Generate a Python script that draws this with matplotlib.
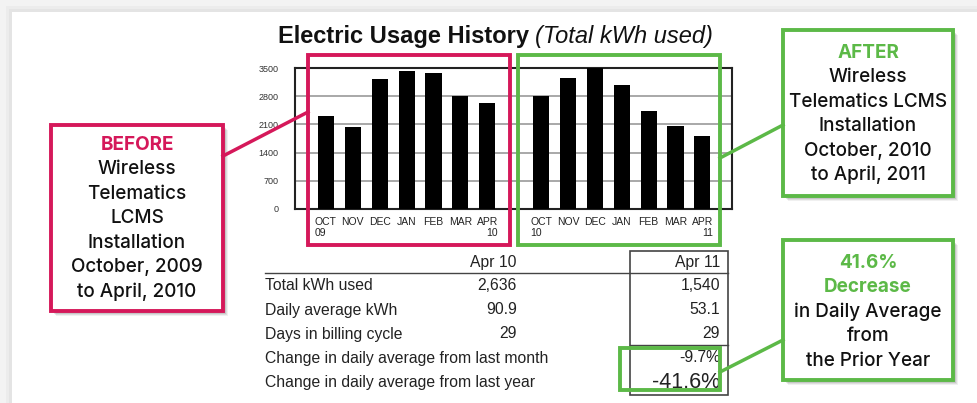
# Electric usage history - before / after LCMS installation
import matplotlib.pyplot as plt
from matplotlib.patches import Rectangle

W, H = 977, 403
RED = '#d5185a'
GREEN = '#5cb947'

# 막대 데이터
months = ['OCT', 'NOV', 'DEC', 'JAN', 'FEB', 'MAR', 'APR']
before_kwh = [2320, 2030, 3230, 3420, 3375, 2800, 2636]
after_kwh = [2810, 3250, 3500, 3070, 2425, 2070, 1810]
before_years = ['09', '', '', '', '', '', '10']
after_years = ['10', '', '', '', '', '', '11']
y_ticks = [0, 700, 1400, 2100, 2800, 3500]

# 표 데이터
row_labels = ['Total kWh used', 'Daily average kWh', 'Days in billing cycle',
              'Change in daily average from last month',
              'Change in daily average from last year']
apr10_vals = ['2,636', '90.9', '29', '', '']
apr11_vals = ['1,540', '53.1', '29', '-9.7%', '-41.6%']

plt.rcParams['font.family'] = ['Liberation Sans', 'DejaVu Sans']

fig = plt.figure(figsize=(W / 100, H / 100), dpi=100)
fig.patch.set_facecolor('#f3f3f3')


def fx(px):
    return px / W


def fy(py):
    return 1 - py / H


# 페이지 배경 + 그림자
for k, c in [(6, '#ececec'), (9, '#e4e4e4')]:
    fig.patches.append(Rectangle((fx(k), 0), 1.1, fy(k), transform=fig.transFigure,
                                 facecolor=c, edgecolor='none', zorder=-3))
fig.patches.append(Rectangle((fx(12), 0), 1.1, fy(12), transform=fig.transFigure,
                             facecolor='white', edgecolor='none', zorder=-2))

# 막대 차트
ax = fig.add_axes([fx(295), fy(209), fx(732) - fx(295), fy(68) - fy(209)])
pos_before = list(range(7))
pos_after = [p + 8 for p in range(7)]
ax.bar(pos_before, before_kwh, width=0.6, color='black', zorder=3)
ax.bar(pos_after, after_kwh, width=0.6, color='black', zorder=3)
ax.set_xlim(-1.15, 15.1)
ax.set_ylim(0, 3500)
ax.set_yticks(y_ticks)
ax.set_yticklabels([str(v) for v in y_ticks], fontsize=6.5, color='#333333')
ax.yaxis.grid(True, color='#999999', linewidth=1.2, zorder=0)
ax.tick_params(axis='y', length=0, pad=12)
ax.tick_params(axis='x', length=0, pad=6)
ax.set_xticks(pos_before + pos_after)
labels = [f'{m}\n{y}' if y else m for m, y in
          zip(months + months, before_years + after_years)]
ax.set_xticklabels(labels, fontsize=7.5, color='#222222', linespacing=1.05)
for i, t in enumerate(ax.get_xticklabels()):
    t.set_verticalalignment('top')
    t.set_multialignment('left' if i % 7 == 0 else 'right')
for s in ax.spines.values():
    s.set_linewidth(1.5)
    s.set_color('#222222')

# 오버레이 (픽셀 좌표)
ov = fig.add_axes([0, 0, 1, 1], zorder=5)
ov.set_xlim(0, W)
ov.set_ylim(H, 0)
ov.axis('off')
ov.patch.set_visible(False)

ov.text(529, 36, 'Electric Usage History', fontsize=17, fontweight='bold',
        ha='right', va='center', color='#111111')
ov.text(535, 36, '(Total kWh used)', fontsize=17, fontstyle='italic',
        ha='left', va='center', color='#111111')

# 표
ov.text(517, 262, 'Apr 10', fontsize=11.3, ha='right', va='center', color='#222222')
ov.text(720, 262, 'Apr 11', fontsize=11.3, ha='right', va='center', color='#222222')
ov.plot([265, 728], [273, 273], color='#444444', linewidth=1)
ov.add_patch(Rectangle((630, 251), 98, 144, fill=False, edgecolor='#444444', linewidth=1.2))
ov.plot([630, 728], [345, 345], color='#444444', linewidth=1)
row_y = [286, 310, 334, 358, 382]
for yy, lab, v10, v11 in zip(row_y, row_labels, apr10_vals, apr11_vals):
    ov.text(265, yy, lab, fontsize=11.3, ha='left', va='center', color='#222222')
    ov.text(517, yy, v10, fontsize=11.3, ha='right', va='center', color='#222222')
    big = v11 == '-41.6%'
    ov.text(720, yy, v11, fontsize=15.5 if big else 11.3, ha='right', va='center',
            color='#222222')


# 강조 박스
def callout(x, y, w, h, color, shadow=True):
    if shadow:
        for k, a in [(5, 0.06), (4, 0.08), (3, 0.1)]:
            ov.add_patch(Rectangle((x + k, y + k), w, h, facecolor='black', alpha=a,
                                   edgecolor='none', zorder=1))
        ov.add_patch(Rectangle((x, y), w, h, facecolor='white', edgecolor='none', zorder=2))
    ov.add_patch(Rectangle((x, y), w, h, fill=False, edgecolor=color, linewidth=2.8, zorder=3))


callout(308, 55, 202, 190, RED, shadow=False)
callout(518, 55, 202, 190, GREEN, shadow=False)
callout(620, 348, 100, 42, GREEN, shadow=False)

callout(51, 125, 172, 186, RED)
callout(783, 30, 170, 166, GREEN)
callout(783, 240, 170, 140, GREEN)

ov.plot([223, 308], [156, 112], color=RED, linewidth=2.5, zorder=3)
ov.plot([720, 783], [158, 125], color=GREEN, linewidth=2.5, zorder=3)
ov.plot([720, 783], [372, 340], color=GREEN, linewidth=2.5, zorder=3)

before_lines = ['BEFORE', 'Wireless', 'Telematics', 'LCMS', 'Installation',
                'October, 2009', 'to April, 2010']
after_lines = ['AFTER', 'Wireless', 'Telematics LCMS', 'Installation',
               'October, 2010', 'to April, 2011']
dec_lines = ['41.6%', 'Decrease', 'in Daily Average', 'from', 'the Prior Year']


def box_text(cx, y0, lines, color, n_colored):
    for i, s in enumerate(lines):
        colored = i < n_colored
        ov.text(cx, y0 + i * 24.4, s, fontsize=13.6, ha='center', va='center',
                family=['Inter', 'DejaVu Sans'],
                fontweight='bold' if colored else 'medium',
                color=color if colored else '#111111', zorder=4)


box_text(137, 145, before_lines, RED, 1)
box_text(868, 53, after_lines, GREEN, 1)
box_text(868, 263, dec_lines, GREEN, 2)

fig.savefig('out.png', dpi=100, facecolor=fig.get_facecolor())
